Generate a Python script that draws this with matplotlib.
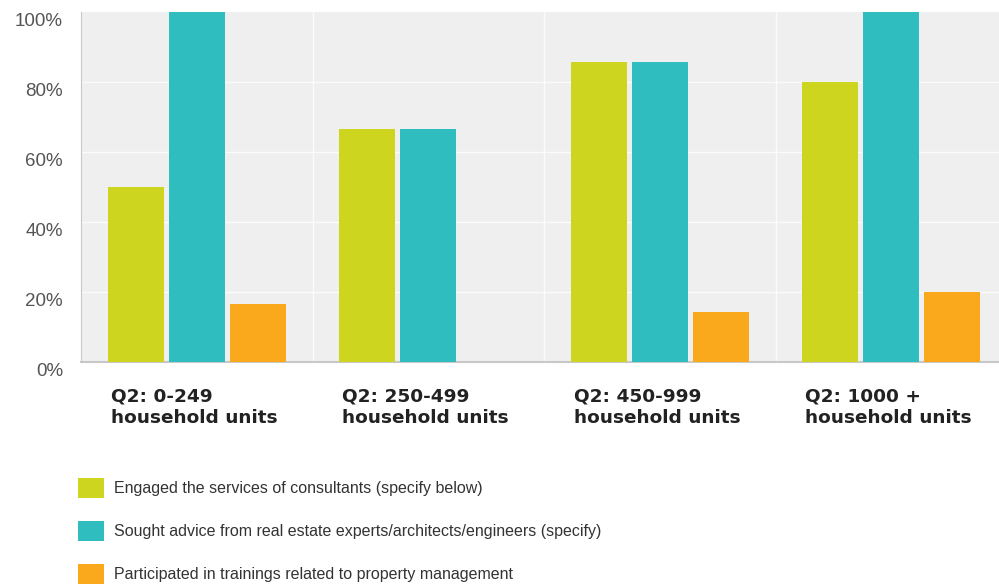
import matplotlib.pyplot as plt
import matplotlib.transforms as mtransforms
import numpy as np

# data
groups = ['Q2: 0-249\nhousehold units', 'Q2: 250-499\nhousehold units',
          'Q2: 450-999\nhousehold units', 'Q2: 1000 +\nhousehold units']
consultants = [50.0, 66.7, 85.7, 80.0]
experts = [100.0, 66.7, 85.7, 100.0]
trainings = [16.7, 0.0, 14.3, 20.0]
series_labels = ['Engaged the services of consultants (specify below)',
                 'Sought advice from real estate experts/architects/engineers (specify)',
                 'Participated in trainings related to property management']
colors = ['#cdd51f', '#2fbdbf', '#f9a91b']
yticks = [0, 20, 40, 60, 80, 100]

plt.rcParams['font.family'] = ['Liberation Sans', 'DejaVu Sans']

W, H = 999, 584
fig = plt.figure(figsize=(W / 100, H / 100), dpi=100)
ax = fig.add_axes([81 / W, (H - 362) / H, (W - 81) / W, 350 / H])
ax.set_facecolor('#efefef')

x = np.arange(len(groups))
width = 56 / 231.5
step = 61 / 231.5
for i, (vals, c, lab) in enumerate(zip([consultants, experts, trainings], colors, series_labels)):
    ax.bar(x + (i - 1) * step, vals, width=width, color=c, label=lab, zorder=3)

ax.set_xlim(-0.5, 3.5 - 8 / 231.5)
ax.set_ylim(0, 100)

# faint white grid
for yv in yticks[1:-1]:
    ax.axhline(yv, color='white', lw=1.0, alpha=0.8, zorder=1)
for xv in [0.5, 1.5, 2.5]:
    ax.axvline(xv, color='white', lw=1.0, alpha=0.8, zorder=1)

for s in ['top', 'right']:
    ax.spines[s].set_visible(False)
ax.spines['left'].set_color('#c8c8c8')
ax.spines['bottom'].set_color('#c8c8c8')
ax.spines['bottom'].set_linewidth(1.5)

ax.set_xticks([])
ax.set_yticks(yticks)
ax.set_yticklabels(['{}%'.format(v) for v in yticks], fontsize=13.5, color='#555555')
ax.tick_params(axis='y', length=0, pad=13)
offset = mtransforms.ScaledTranslation(0, -7 / 100, fig.dpi_scale_trans)
for lbl in ax.get_yticklabels():
    lbl.set_transform(lbl.get_transform() + offset)

# category labels, left aligned under first bar of each group
trans = mtransforms.blended_transform_factory(ax.transData, ax.transAxes)
for xi, g in zip(x, groups):
    ax.text(xi - step - width / 2 + 3 / 231.5, -25 / 350, g, transform=trans, ha='left', va='top',
            fontsize=13.3, fontweight='bold', color='#222222', linespacing=1.3,
            family='DejaVu Sans')

fig.legend(loc='upper left', bbox_to_anchor=(64 / W, 1 - 464 / H), frameon=False,
           fontsize=11.5, handlelength=1.6, handleheight=1.5, handletextpad=0.65,
           labelspacing=1.47, labelcolor='#333333')

fig.savefig('out.png', dpi=100, facecolor='white')
